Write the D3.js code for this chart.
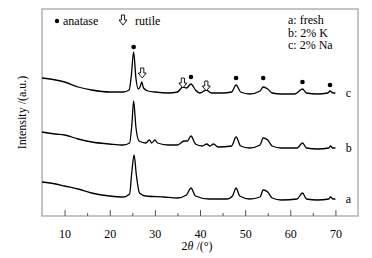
<!DOCTYPE html>
<html>
<head>
<meta charset="utf-8">
<script src="https://cdn.jsdelivr.net/npm/d3@7"></script>
<style>
  body { margin: 0; background: #fff; }
  text { font-family: "Liberation Serif", "Times New Roman", serif; fill: #000; }
</style>
</head>
<body>
<div id="chart"></div>
<script>
// 2theta / intensity pairs (offset curves, arbitrary units)
var thetaA = [5, 8, 10, 13, 16, 20, 23, 24.4, 24.9, 25.4, 25.9, 26.6, 28, 32, 35, 37, 38, 39, 42, 46, 47.2, 48, 48.8, 51, 53.3, 54, 55, 56, 58, 61.5, 62.7, 63.6, 66, 68.5, 68.9, 69.5, 70];
var intA   = [34, 32, 30, 27, 23, 20, 19, 22, 44, 61, 41, 23, 20, 19, 18, 21, 28, 20, 17, 17, 20, 28, 20, 17, 19, 26, 24, 18, 16, 17, 23, 17, 16, 17, 19, 17, 17];

var thetaB = [5, 8, 10, 13, 16, 20, 23, 24.4, 24.9, 25.3, 25.8, 26.5, 28, 28.8, 29.3, 30, 30.6, 33, 35, 36.5, 37.2, 38, 39, 40.5, 41.5, 42.2, 43, 44, 47, 48, 49, 51, 53.3, 54, 55, 56, 58, 61.5, 62.7, 63.6, 66, 68.5, 68.9, 69.4, 70];
var intB   = [84, 82, 81, 77, 74, 72, 71, 73, 91, 115, 89, 75, 73, 76, 73, 76, 73, 71, 71, 75, 75, 80, 72, 70, 72, 70, 72, 69, 70, 79, 70, 68, 71, 78, 76, 70, 68, 68, 73, 68, 67, 68, 70, 68, 68];

var thetaC = [5, 8, 10, 13, 16, 20, 23, 24.3, 24.8, 25.3, 25.8, 26.3, 26.8, 27.1, 27.5, 28.5, 30, 33, 35, 36.2, 37, 38, 39, 40, 41.4, 42.5, 45, 47, 48, 49, 51, 53.3, 54, 55, 56, 58, 61, 62.7, 63.6, 66, 68.3, 68.8, 69.5, 70];
var intC   = [138, 136, 134, 129, 126, 124, 124, 126, 141, 164, 138, 127, 130, 134, 128, 125, 124, 123, 124, 129, 128, 132, 126, 123, 126, 123, 123, 124, 131, 124, 122, 125, 129, 127, 123, 122, 122, 127, 123, 122, 123, 125, 123, 123];

var seriesNames  = ["a", "b", "c"];
var seriesLabelY = [17, 68, 123];

// phase markers over curve c
var anataseTheta = [25.3, 38, 48, 54, 62.7, 68.8];
var anataseY     = [169, 139, 138, 138, 134, 131];
var rutileTheta  = [27.2, 36.2, 41.4];
var rutileY      = [143, 133, 130];

var xTicks  = [10, 20, 30, 40, 50, 60, 70];
var xMinor  = [15, 25, 35, 45, 55, 65];
var legendLines = ["a: fresh", "b: 2% K", "c: 2% Na"];

var margin = {top: 9, right: 14, bottom: 42, left: 42};
var W = 372, H = 258;
var width = W - margin.left - margin.right,
    height = H - margin.top - margin.bottom;

var svg = d3.select("#chart").append("svg")
  .attr("width", W)
  .attr("height", H);

var g = svg.append("g")
  .attr("transform", "translate(" + margin.left + "," + margin.top + ")");

var x = d3.scaleLinear().domain([5, 75]).range([0, width]);
var y = d3.scaleLinear().domain([0, height]).range([height, 0]);

// frame
g.append("rect")
  .attr("width", width)
  .attr("height", height)
  .attr("fill", "none")
  .attr("stroke", "#8a8a8a")
  .attr("stroke-width", 1);

// bottom axis, ticks pointing inward
var xAxis = d3.axisBottom(x).tickValues(xTicks).tickSizeInner(-6).tickSizeOuter(0).tickPadding(13);
var ax = g.append("g")
  .attr("transform", "translate(0," + height + ")")
  .call(xAxis);
ax.select(".domain").remove();
ax.selectAll("line").attr("stroke", "#555");
ax.selectAll("text").attr("font-size", 12).attr("font-family", "Liberation Serif");

var axMinor = d3.axisBottom(x).tickValues(xMinor).tickSizeInner(-3).tickSizeOuter(0).tickFormat("");
var am = g.append("g")
  .attr("transform", "translate(0," + height + ")")
  .call(axMinor);
am.select(".domain").remove();
am.selectAll("line").attr("stroke", "#555");

// curves
var series = [
  {name: "a", t: thetaA, v: intA},
  {name: "b", t: thetaB, v: intB},
  {name: "c", t: thetaC, v: intC}
];

var line = d3.line()
  .x(function(d){ return x(d[0]); })
  .y(function(d){ return y(d[1]); })
  .curve(d3.curveMonotoneX);

series.forEach(function(s, i){
  var pts = s.t.map(function(t, j){ return [t, s.v[j]]; });
  g.append("path")
    .datum(pts)
    .attr("fill", "none")
    .attr("stroke", "#000")
    .attr("stroke-width", 1.3)
    .attr("d", line);

  g.append("text")
    .attr("x", x(72.3))
    .attr("y", y(seriesLabelY[i]) + 4)
    .attr("font-size", 12)
    .text(seriesNames[i]);
});

// anatase dots
g.selectAll(".dot")
  .data(anataseTheta)
  .enter().append("circle")
  .attr("class", "dot")
  .attr("cx", function(d){ return x(d); })
  .attr("cy", function(d, i){ return y(anataseY[i]); })
  .attr("r", 2.3)
  .attr("fill", "#000");

// hollow down arrow
function arrowPath(cx, cy) {
  var p = [[-1.6, -5], [1.6, -5], [1.6, 0], [4, 0], [0, 5], [-4, 0], [-1.6, 0]];
  return "M" + p.map(function(q){ return (cx + q[0]) + "," + (cy + q[1]); }).join("L") + "Z";
}

g.selectAll(".arrow")
  .data(rutileTheta)
  .enter().append("path")
  .attr("class", "arrow")
  .attr("d", function(d, i){ return arrowPath(x(d), y(rutileY[i])); })
  .attr("fill", "#fff")
  .attr("stroke", "#000")
  .attr("stroke-width", 0.9);

// phase legend
g.append("circle").attr("cx", 15).attr("cy", 12).attr("r", 2.2).attr("fill", "#000");
g.append("text").attr("x", 21).attr("y", 16).attr("font-size", 12).text("anatase");
g.append("path").attr("d", arrowPath(81, 11)).attr("fill", "#fff").attr("stroke", "#000").attr("stroke-width", 0.9);
g.append("text").attr("x", 93).attr("y", 16).attr("font-size", 12).text("rutile");

// sample legend
g.selectAll(".leg")
  .data(legendLines)
  .enter().append("text")
  .attr("class", "leg")
  .attr("x", 246)
  .attr("y", function(d, i){ return 15 + i * 12.5; })
  .attr("font-size", 12)
  .text(function(d){ return d; });

// axis titles
var xt = svg.append("text")
  .attr("x", 197)
  .attr("y", 250)
  .attr("text-anchor", "middle")
  .attr("font-size", 12);
xt.append("tspan").text("2");
xt.append("tspan").attr("font-style", "italic").text("θ");
xt.append("tspan").text(" /(°)");

svg.append("text")
  .attr("transform", "translate(26," + (margin.top + height / 2) + ") rotate(-90)")
  .attr("text-anchor", "middle")
  .attr("font-size", 12)
  .text("Intensity /(a.u.)");
</script>
</body>
</html>
